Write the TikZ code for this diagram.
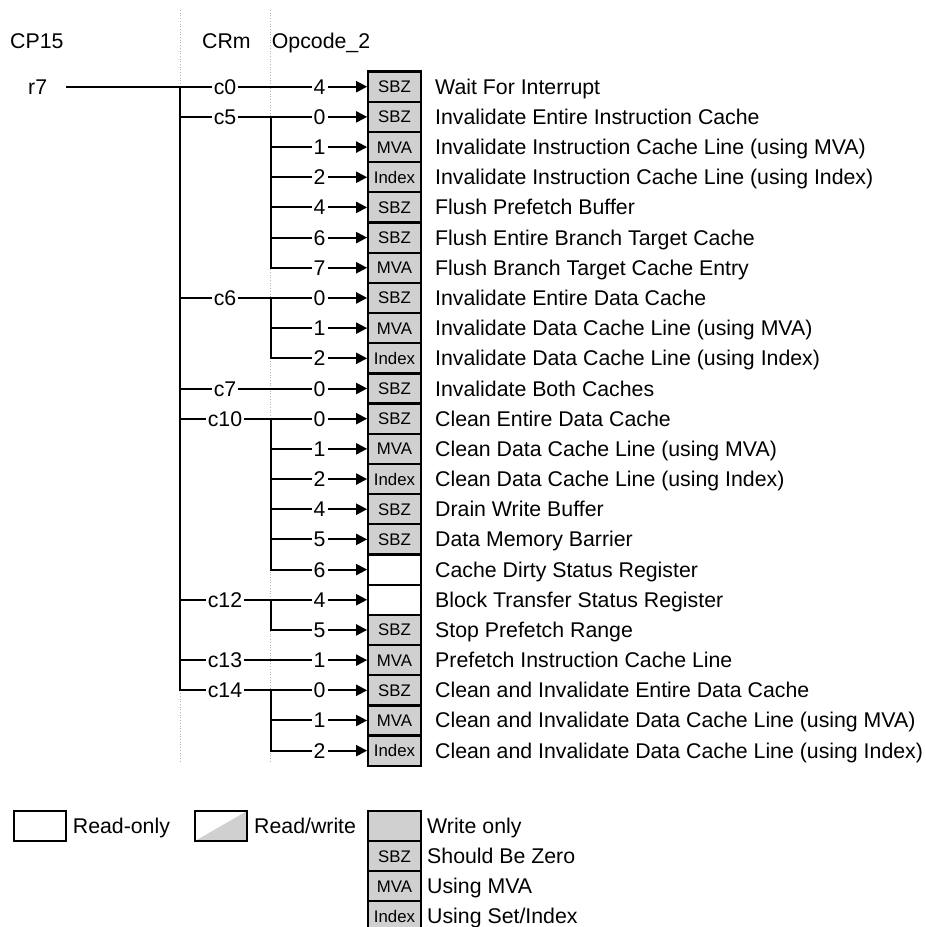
\documentclass[tikz,border=0pt]{standalone}
\usepackage{fontspec}
\setmainfont{Liberation Sans}
\usepackage{tikz}
\usetikzlibrary{arrows.meta}

\definecolor{regfill}{RGB}{208,208,208}
\tikzset{
  lbl/.style={inner xsep=2.5pt, inner ysep=0pt, text height=15pt, text depth=0pt},
  regbox/.style={draw, line width=2.3pt, minimum width=52.4pt, minimum height=30.2pt,
    inner sep=0pt, font=\fontsize{16.8}{17}\selectfont, text height=12pt, text depth=0pt},
  wire/.style={line width=2pt, line cap=rect},
  arr/.style={line width=2pt, -{Triangle[length=11pt,width=11pt]}},
  guide/.style={gray!60, dotted, line width=0.7pt}
}

\begin{document}
\begin{tikzpicture}[x=1pt, y=-1pt, font=\fontsize{21.3}{25}\selectfont]
  \useasboundingbox (0,0) rectangle (926,927);

  % column guides
  \draw[guide] (180,10) -- (180,762);
  \draw[guide] (270.7,10) -- (270.7,762);

  % headings
  \node[lbl, anchor=west] (hcp) at (7.5,41) {CP15};
  \node[lbl, anchor=west] (hcrm) at (199.5,41) {CRm};
  \node[lbl, anchor=west] (hop) at (269.2,41) {Opcode\_2};

  % one row per register operation
  \foreach \k/\op/\shade/\tag/\txt in {
      0/4/regfill/SBZ/Wait For Interrupt,
      1/0/regfill/SBZ/Invalidate Entire Instruction Cache,
      2/1/regfill/MVA/Invalidate Instruction Cache Line (using MVA),
      3/2/regfill/Index/Invalidate Instruction Cache Line (using Index),
      4/4/regfill/SBZ/Flush Prefetch Buffer,
      5/6/regfill/SBZ/Flush Entire Branch Target Cache,
      6/7/regfill/MVA/Flush Branch Target Cache Entry,
      7/0/regfill/SBZ/Invalidate Entire Data Cache,
      8/1/regfill/MVA/Invalidate Data Cache Line (using MVA),
      9/2/regfill/Index/Invalidate Data Cache Line (using Index),
      10/0/regfill/SBZ/Invalidate Both Caches,
      11/0/regfill/SBZ/Clean Entire Data Cache,
      12/1/regfill/MVA/Clean Data Cache Line (using MVA),
      13/2/regfill/Index/Clean Data Cache Line (using Index),
      14/4/regfill/SBZ/Drain Write Buffer,
      15/5/regfill/SBZ/Data Memory Barrier,
      16/6/white/{}/Cache Dirty Status Register,
      17/4/white/{}/Block Transfer Status Register,
      18/5/regfill/SBZ/Stop Prefetch Range,
      19/1/regfill/MVA/Prefetch Instruction Cache Line,
      20/0/regfill/SBZ/Clean and Invalidate Entire Data Cache,
      21/1/regfill/MVA/Clean and Invalidate Data Cache Line (using MVA),
      22/2/regfill/Index/Clean and Invalidate Data Cache Line (using Index)}{
    \pgfmathsetmacro\yy{86.7+30.18*\k}
    \coordinate (t\k) at (180,\yy);
    \coordinate (br\k) at (270.7,\yy);
    \node[lbl] (op\k) at (319.5,\yy) {\op};
    \node[regbox, fill=\shade] (reg\k) at (394.5,\yy) {\tag};
    \node[lbl, anchor=west] (desc\k) at (432.5,\yy) {\txt};
    \draw[arr] (op\k) -- (reg\k);
  }

  % CRm labels
  \node[lbl] (c0) at (225,0 |- t0) {c0};
  \node[lbl] (c5) at (225,0 |- t1) {c5};
  \node[lbl] (c6) at (225,0 |- t7) {c6};
  \node[lbl] (c7) at (225,0 |- t10) {c7};
  \node[lbl] (c10) at (225,0 |- t11) {c10};
  \node[lbl] (c12) at (225,0 |- t17) {c12};
  \node[lbl] (c13) at (225,0 |- t19) {c13};
  \node[lbl] (c14) at (225,0 |- t20) {c14};

  % r7 and the CRm trunk
  \node[lbl, anchor=west] (r7) at (25.5,0 |- t0) {r7};
  \draw[wire] ([xshift=17.5pt]r7.east) -- (c0) -- (op0);
  \draw[wire] (t0) -- (t20);
  \draw[wire] (t1) -- (c5) -- (op1);
  \draw[wire] (t7) -- (c6) -- (op7);
  \draw[wire] (t10) -- (c7) -- (op10);
  \draw[wire] (t11) -- (c10) -- (op11);
  \draw[wire] (t17) -- (c12) -- (op17);
  \draw[wire] (t19) -- (c13) -- (op19);
  \draw[wire] (t20) -- (c14) -- (op20);

  % Opcode_2 branches
  \draw[wire] (br1) -- (br6);
  \draw[wire] (br7) -- (br9);
  \draw[wire] (br11) -- (br16);
  \draw[wire] (br17) -- (br18);
  \draw[wire] (br20) -- (br22);
  \foreach \k in {2,3,4,5,6,8,9,12,13,14,15,16,18,21,22}
    \draw[wire] (br\k) -- (op\k);

  % key
  \node[regbox, fill=white] (ro) at (40,826) {};
  \node[lbl, anchor=west] (rotxt) at (70.2,826) {Read-only};
  \node[regbox, path picture={\fill[regfill] (path picture bounding box.south west)
    -- (path picture bounding box.north east) -- (path picture bounding box.south east) -- cycle;}]
    (rw) at (221,826) {};
  \node[lbl, anchor=west] (rwtxt) at (251.5,826) {Read/write};
  \node[regbox, fill=regfill] (wo) at (394.5,825.8) {};
  \node[regbox, fill=regfill] (ksbz) at (394.5,856) {SBZ};
  \node[regbox, fill=regfill] (kmva) at (394.5,886.2) {MVA};
  \node[regbox, fill=regfill] (kidx) at (394.5,916.4) {Index};
  \node[lbl, anchor=west] (wotxt) at (424.5,825.8) {Write only};
  \node[lbl, anchor=west] (sbztxt) at (424.5,856) {Should Be Zero};
  \node[lbl, anchor=west] (mvatxt) at (424.5,886.2) {Using MVA};
  \node[lbl, anchor=west] (idxtxt) at (424.5,916.4) {Using Set/Index};
\end{tikzpicture}
\end{document}
